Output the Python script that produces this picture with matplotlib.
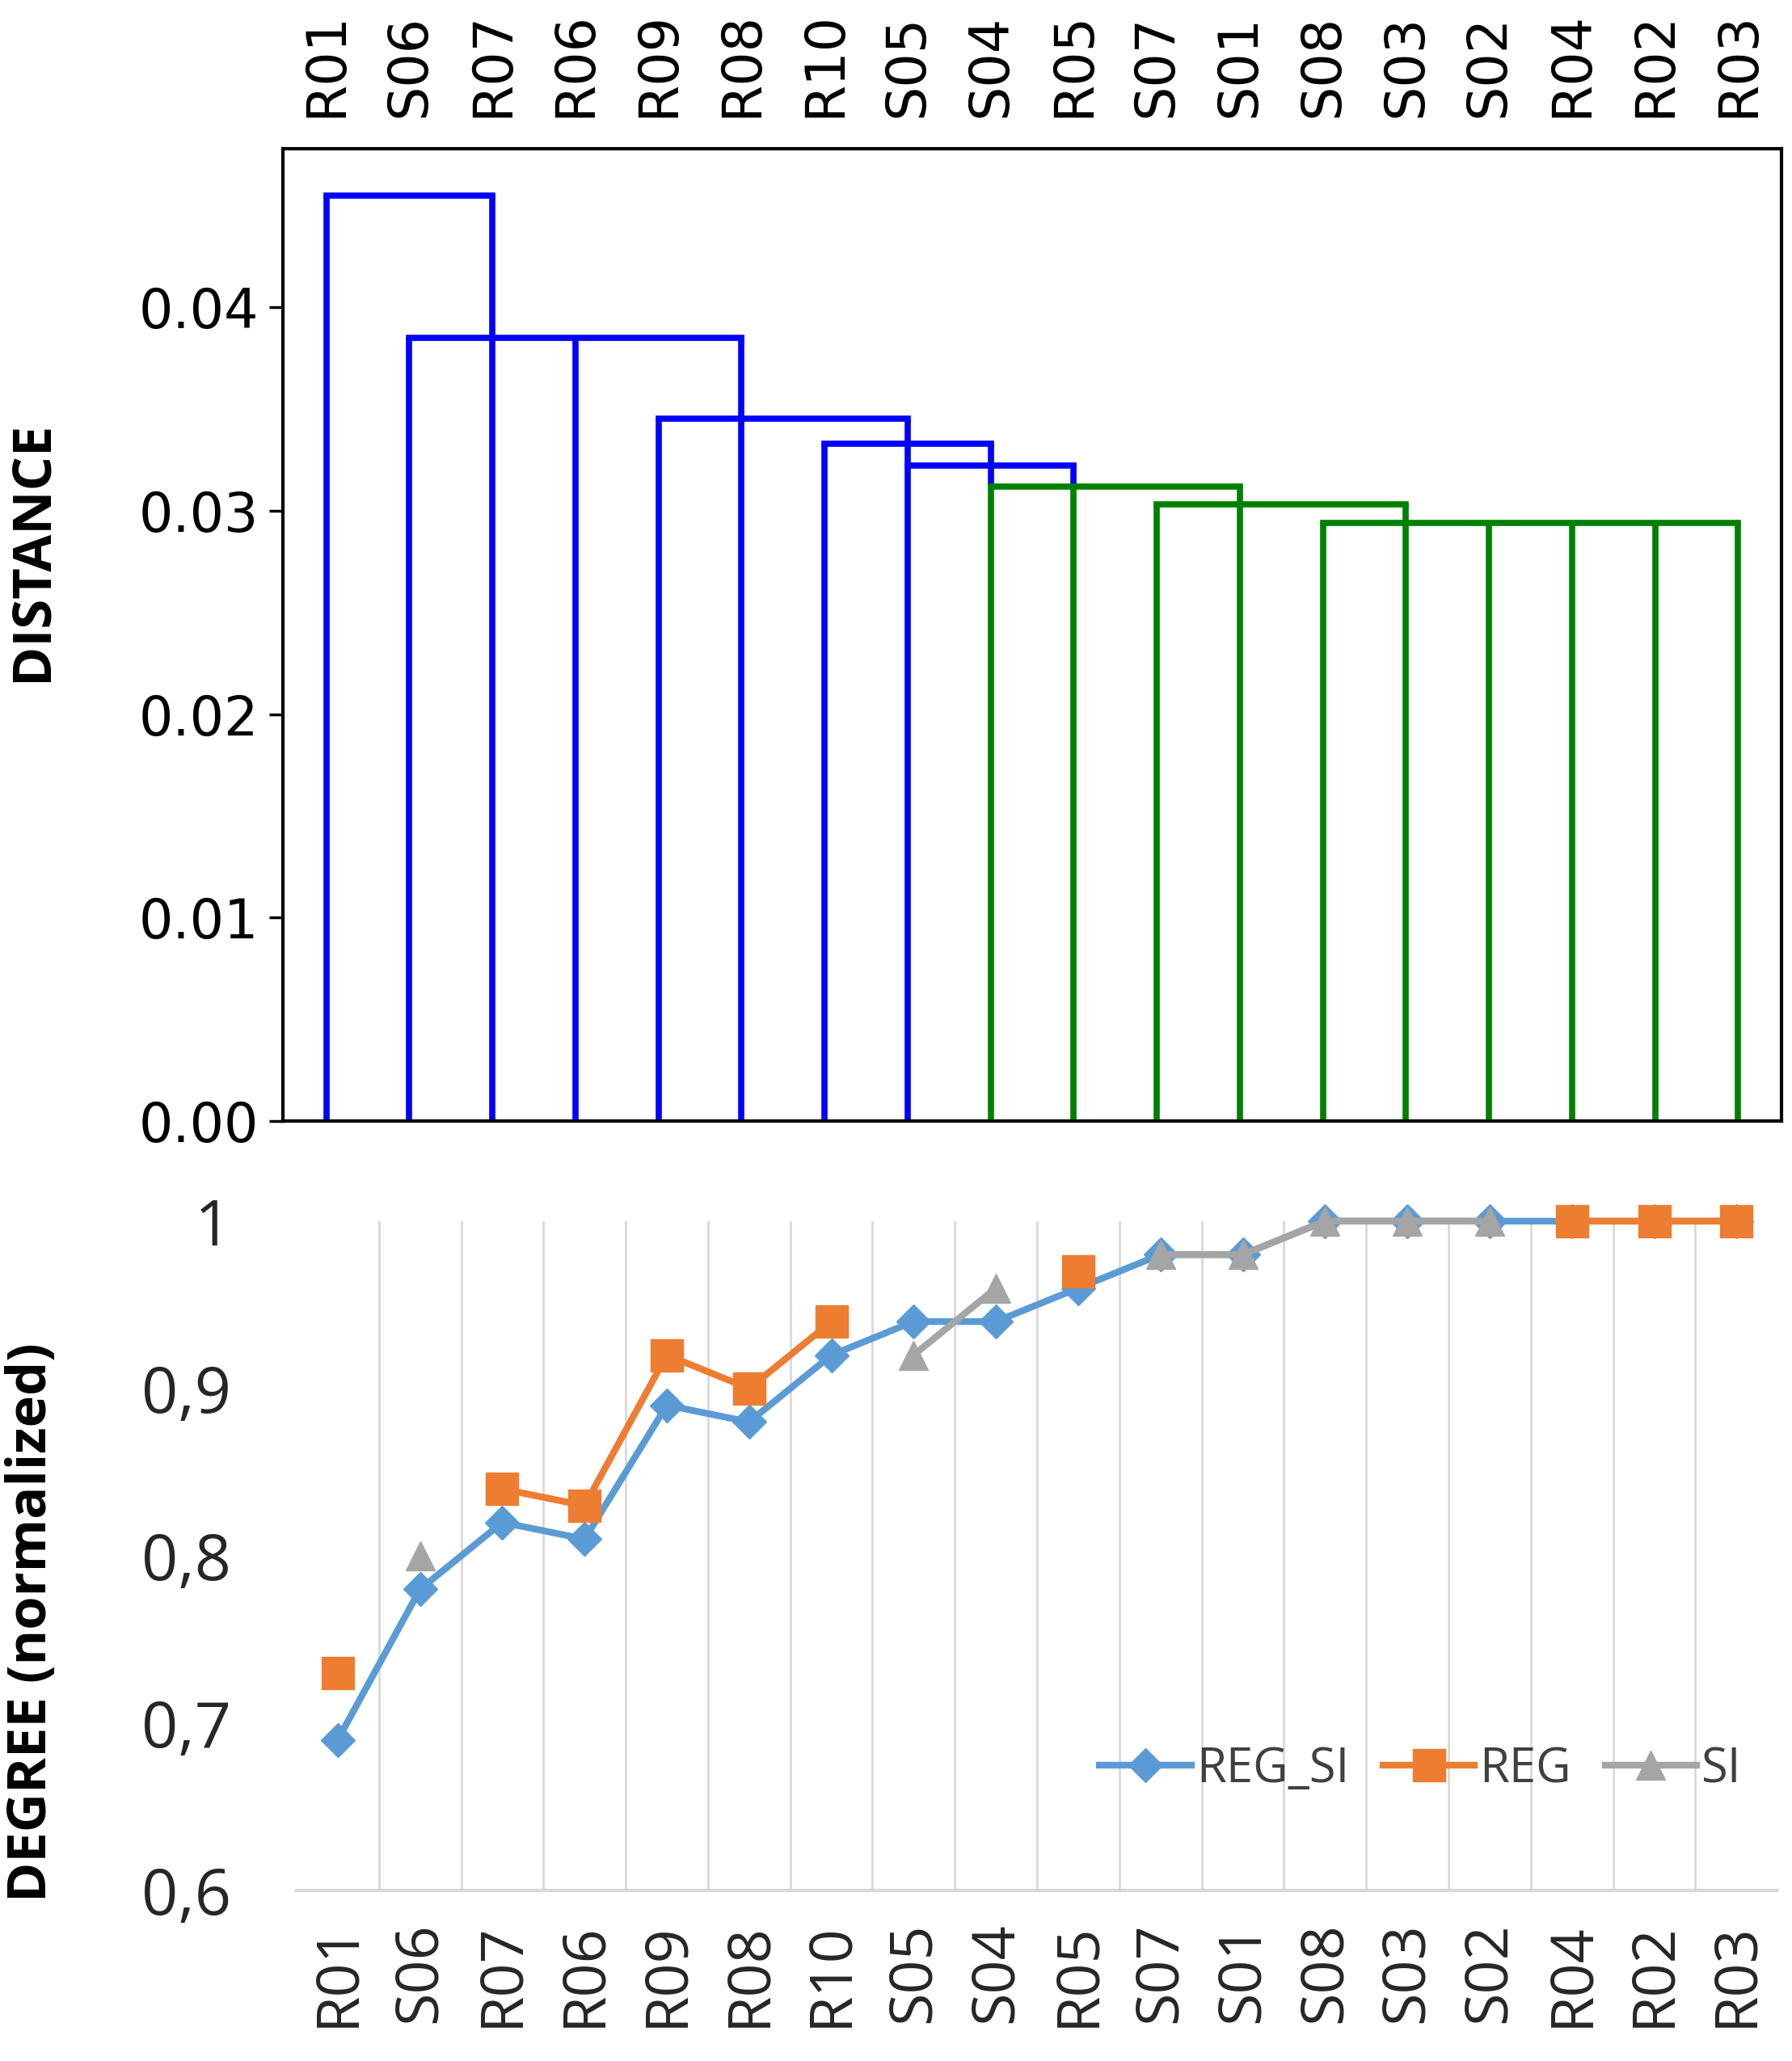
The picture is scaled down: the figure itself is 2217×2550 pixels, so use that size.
import numpy as np
import matplotlib
matplotlib.use("Agg")
import matplotlib.pyplot as plt
from matplotlib.ticker import FuncFormatter, FixedLocator

# ---------------- data ----------------
leaves = ["R01", "S06", "R07", "R06", "R09", "R08", "R10", "S05", "S04",
          "R05", "S07", "S01", "S08", "S03", "S02", "R04", "R02", "R03"]

# dendrogram: vertical top of each leaf line, and height up to which it is green
leaf_top = [0.0455, 0.0385, 0.0455, 0.0385, 0.0345, 0.0385, 0.0333, 0.0345, 0.0333,
            0.0322, 0.0303, 0.0312, 0.0294, 0.0303, 0.0294, 0.0294, 0.0294, 0.0294]
leaf_green_top = [0, 0, 0, 0, 0, 0, 0, 0, 0.0312,
                  0.0312, 0.0303, 0.0312, 0.0294, 0.0303, 0.0294, 0.0294, 0.0294, 0.0294]
# horizontal links: first leaf index, last leaf index, height, cluster
link_left = [0, 1, 4, 6, 7, 8, 10, 12]
link_right = [2, 5, 7, 8, 9, 11, 13, 17]
link_height = [0.0455, 0.0385, 0.0345, 0.0333, 0.0322, 0.0312, 0.0303, 0.0294]
link_cluster = ["b", "b", "b", "b", "b", "g", "g", "g"]

nan = np.nan
reg_si = [0.69, 0.78, 0.82, 0.81, 0.89, 0.88, 0.92, 0.94, 0.94,
          0.96, 0.98, 0.98, 1.0, 1.0, 1.0, 1.0, 1.0, 1.0]
reg = [0.73, nan, 0.84, 0.83, 0.92, 0.90, 0.94, nan, nan,
       0.97, nan, nan, nan, nan, nan, 1.0, 1.0, 1.0]
si = [nan, 0.80, nan, nan, nan, nan, nan, 0.92, 0.96,
      nan, 0.98, 0.98, 1.0, 1.0, 1.0, nan, nan, nan]

dist_ticks = [0.00, 0.01, 0.02, 0.03, 0.04]
deg_ticks = [0.6, 0.7, 0.8, 0.9, 1.0]

# ---------------- figure ----------------
W, H = 2217, 2550
fig = plt.figure(figsize=(W / 100, H / 100), dpi=100)

col_map = {"b": "#0000FF", "g": "#008000"}
x = np.arange(len(leaves))

# --- dendrogram ---
ax1 = fig.add_axes([0.158, 0.456, 0.836, 0.472])
lw = 5.5
for i in x:
    gt = leaf_green_top[i]
    if gt > 0:
        ax1.plot([i, i], [0, gt], color=col_map["g"], lw=lw, solid_capstyle="butt")
    if leaf_top[i] > gt:
        ax1.plot([i, i], [gt, leaf_top[i]], color=col_map["b"], lw=lw, solid_capstyle="butt")
for l, r, h, c in zip(link_left, link_right, link_height, link_cluster):
    ax1.plot([l, r], [h, h], color=col_map[c], lw=lw, solid_capstyle="projecting")

ax1.set_xlim(-0.52, len(leaves) - 0.48)
ax1.set_ylim(0, 0.0478)
ax1.xaxis.set_ticks_position("top")
ax1.set_xticks(x)
ax1.set_xticklabels(leaves, rotation=90, fontsize=48, family="DejaVu Sans")
ax1.tick_params(axis="x", length=0, pad=28)
ax1.set_yticks(dist_ticks)
ax1.yaxis.set_major_formatter(FuncFormatter(lambda v, p: f"{v:.2f}"))
ax1.tick_params(axis="y", labelsize=48, length=12, width=2.5, pad=10)
for s in ax1.spines.values():
    s.set_linewidth(3)
    s.set_color("black")

# --- degree line chart ---
ax2 = fig.add_axes([0.1655, 0.0827, 0.8265, 0.3248])
ax2.set_xlim(-0.5, len(leaves) - 0.5)
ax2.set_ylim(0.6, 1.0)
for b in np.arange(0.5, len(leaves) - 0.5, 1.0):
    ax2.axvline(b, color="#D9D9D9", lw=2.0, zorder=0)

ax2.plot(x, reg_si, color="#5B9BD5", lw=6, marker="D", ms=21,
         label="REG_SI", clip_on=False, zorder=3)
ax2.plot(x, reg, color="#ED7D31", lw=6, marker="s", ms=29,
         label="REG", clip_on=False, zorder=4)
ax2.plot(x, si, color="#A5A5A5", lw=6, marker="^", ms=26,
         label="SI", clip_on=False, zorder=5)

for side in ["left", "right", "top"]:
    ax2.spines[side].set_visible(False)
ax2.spines["bottom"].set_color("#D9D9D9")
ax2.spines["bottom"].set_linewidth(3)

ax2.set_xticks(x)
ax2.set_xticklabels(leaves, rotation=90, fontsize=53, family="Open Sans", color="#262626")
ax2.tick_params(axis="x", length=0, pad=28)
ax2.yaxis.set_major_locator(FixedLocator(deg_ticks))
ax2.yaxis.set_major_formatter(
    FuncFormatter(lambda v, p: ("%g" % round(v, 1)).replace(".", ",")))
ax2.tick_params(axis="y", length=0, pad=58, labelsize=57, labelcolor="#262626")
for t in ax2.get_yticklabels():
    t.set_family("Open Sans")

leg = ax2.legend(loc="center right", bbox_to_anchor=(1.005, 0.181), ncol=3,
                 frameon=False, handlelength=1.9, handletextpad=0.1,
                 columnspacing=0.7, prop={"family": "Open Sans", "size": 43})
for t in leg.get_texts():
    t.set_color("#404040")

# --- axis titles ---
fig.text(0.018, 0.7325, "DISTANCE", rotation=90, ha="center", va="center",
         fontsize=48, fontweight="bold", family="Open Sans")
fig.text(0.018, 0.213, "DEGREE (normalized)", rotation=90, ha="center", va="center",
         fontsize=48, fontweight="bold", family="Open Sans")

fig.savefig("out.png", dpi=100)
